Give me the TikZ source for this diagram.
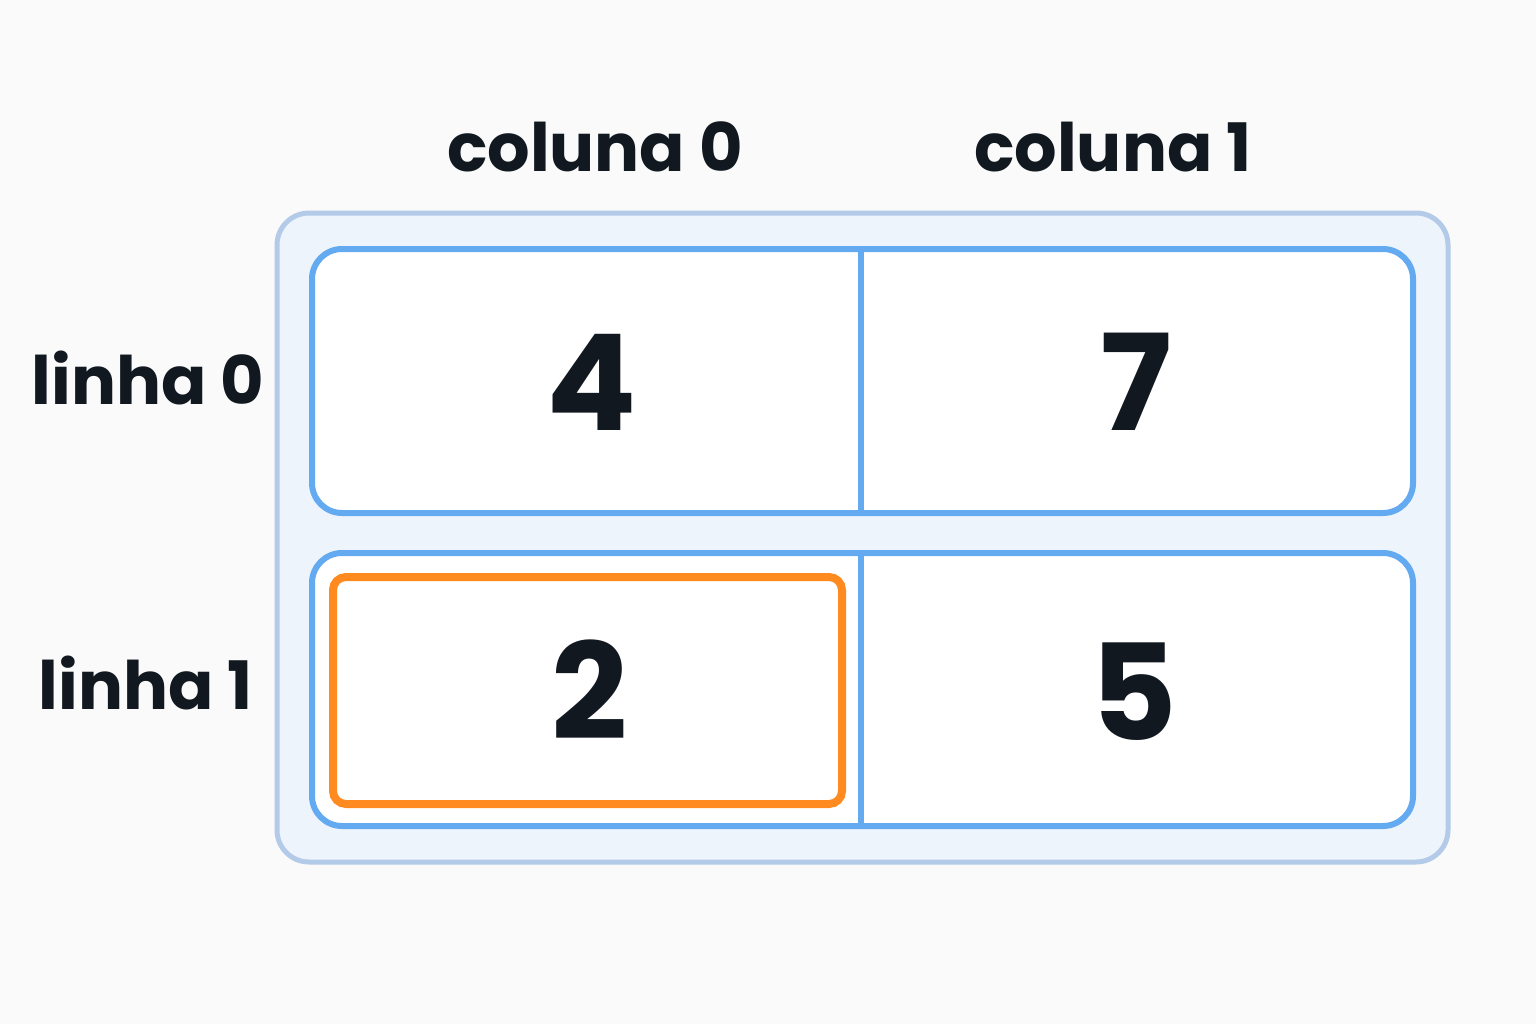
\documentclass[tikz,border=0pt]{standalone}
\usepackage{fontspec}
\setmainfont{Poppins}
\usetikzlibrary{positioning}
\definecolor{ink}{HTML}{111820}
\definecolor{outerfill}{HTML}{EEF4FC}
\definecolor{outerline}{HTML}{B3CBE8}
\definecolor{cellline}{HTML}{64AAF0}
\definecolor{pick}{HTML}{FF8A1F}
\begin{document}
\begin{tikzpicture}[x=0.01cm,y=-0.01cm,
    head/.style={font=\fontsize{19}{19}\selectfont\bfseries,text=ink},
    num/.style={font=\fontsize{38}{38}\selectfont\bfseries,text=ink},
    row/.style={draw=cellline,line width=0.6mm,fill=white,rounded corners=0.3cm}]
        \useasboundingbox[fill=white!98!black] (0,0) rectangle (1536,1024);
        %%% Frame
        \draw[draw=outerline,line width=0.5mm,fill=outerfill,rounded corners=0.32cm] (277,213) rectangle (1448,862);
        \draw[row] (312,249) rectangle (1413,513);
        \draw[row] (312,553) rectangle (1413,826);
        \draw[cellline,line width=0.6mm] (861,249) -- (861,513);
        \draw[cellline,line width=0.6mm] (861,553) -- (861,826);
        \draw[pick,line width=0.8mm,rounded corners=0.13cm] (333,577) rectangle (842,804);

        %%% Labels
        \node[head] (c0) at (595,147) {coluna 0};
        \node[head] (c1) at (1113,147) {coluna 1};
        \node[head] (l0) at (148,378) {linha 0};
        \node[head] (l1) at (146,683) {linha 1};

        %%% Values
        \node[num] (a00) at (592,382) {4};
        \node[num] (a01) at (1136,382) {7};
        \node[num] (a10) at (590,690) {2};
        \node[num] (a11) at (1134,692) {5};
\end{tikzpicture}
\end{document}
